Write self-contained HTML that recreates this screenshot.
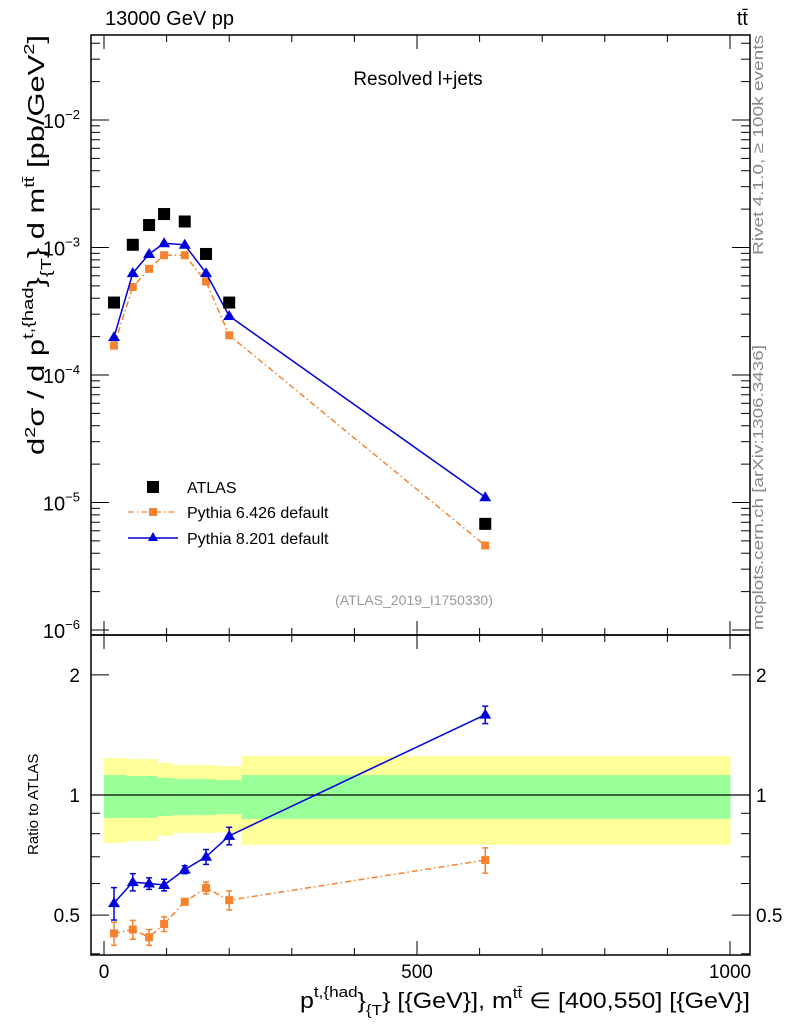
<!DOCTYPE html>
<html><head><meta charset="utf-8"><style>
html,body{margin:0;padding:0;background:#fff}
svg{display:block;font-family:"Liberation Sans",sans-serif}
</style></head><body>
<svg id="c" width="786" height="1024" viewBox="0 0 786 1024" xmlns="http://www.w3.org/2000/svg">
<g id="bands"></g>
<g id="axes"></g>
<g id="marks"></g>
<text x="105" y="25" font-size="20">13000 GeV pp</text>
<text x="748" y="25" font-size="20" text-anchor="end">tt̄</text>
<text x="418" y="85" font-size="19" text-anchor="middle">Resolved l+jets</text>
<text x="414" y="605" font-size="14" fill="#999" text-anchor="middle">(ATLAS_2019_I1750330)</text>
<text transform="translate(763,255) rotate(-90)" font-size="15" fill="#888" textLength="220" lengthAdjust="spacingAndGlyphs">Rivet 4.1.0, ≥ 100k events</text>
<text transform="translate(763,630) rotate(-90)" font-size="15" fill="#888" textLength="285" lengthAdjust="spacingAndGlyphs">mcplots.cern.ch [arXiv:1306.3436]</text>
<text transform="translate(44,455) rotate(-90)" font-size="23" textLength="420" lengthAdjust="spacingAndGlyphs">d<tspan font-size="15" dy="-9">2</tspan><tspan dy="9">σ / d p</tspan><tspan font-size="15" dy="-11">t,{had</tspan><tspan dy="11">}</tspan><tspan font-size="15" dy="7">{T</tspan><tspan dy="-7">} d m</tspan><tspan font-size="15" dy="-10">tt̄</tspan><tspan dy="10"> [pb/GeV</tspan><tspan font-size="15" dy="-10">2</tspan><tspan dy="10">]</tspan></text>
<text transform="translate(38,855) rotate(-90)" font-size="15">Ratio to ATLAS</text>
<text x="300" y="1008" font-size="22" textLength="450" lengthAdjust="spacingAndGlyphs">p<tspan font-size="15" dy="-11">t,{had</tspan><tspan dy="11">}</tspan><tspan font-size="15" dy="7">{T</tspan><tspan dy="-7">} [{GeV}], m</tspan><tspan font-size="15" dy="-10">tt̄</tspan><tspan dy="10"> ∈ [400,550] [{GeV}]</tspan></text>
<g>
<rect x="147" y="481" width="12" height="12" fill="#000"/>
<text x="187" y="493" font-size="16">ATLAS</text>
<line x1="128" y1="512" x2="178" y2="512" stroke="#f58231" stroke-width="1.3" stroke-dasharray="6,3,1.5,3"/>
<rect x="149" y="508" width="8" height="8" fill="#f58231"/>
<text x="187" y="518" font-size="16">Pythia 6.426 default</text>
<line x1="128" y1="538" x2="178" y2="538" stroke="#0000dd" stroke-width="1.5"/>
<path d="M153,532 L158,541 L148,541 Z" fill="#0000dd"/>
<text x="187" y="544" font-size="16">Pythia 8.201 default</text>
</g>
</svg>
<script>
const binEdges=[0,35,60,85,110,150,180,220,1000];
const xCenters=[16,46,72,96,129,163,200,609];
const atlas=[3.7e-4,1.05e-3,1.5e-3,1.83e-3,1.6e-3,8.9e-4,3.7e-4,6.8e-6];
const py8=[1.98e-4,6.3e-4,8.9e-4,1.08e-3,1.05e-3,6.3e-4,2.9e-4,1.1e-5];
const py6=[1.7e-4,4.9e-4,6.8e-4,8.7e-4,8.7e-4,5.4e-4,2.05e-4,4.6e-6];
const ratio8=[0.536,0.605,0.60,0.595,0.65,0.70,0.79,1.59];
const ratio8Err=[0.05,0.03,0.02,0.02,0.015,0.03,0.04,0.08];
const ratio6=[0.45,0.46,0.44,0.475,0.54,0.585,0.545,0.687];
const ratio6Err=[0.03,0.025,0.02,0.02,0.01,0.02,0.03,0.05];
const yellowUp=[1.238,1.231,1.231,1.203,1.189,1.189,1.182,1.252];
const yellowDn=[0.758,0.767,0.767,0.79,0.803,0.803,0.808,0.75];
const greenUp=[1.122,1.116,1.116,1.103,1.097,1.097,1.09,1.122];
const greenDn=[0.876,0.876,0.876,0.886,0.891,0.891,0.896,0.871];
const xTicks=[0,500,1000];
const yTicks=[-6,-5,-4,-3,-2];
const rTicks=[0.5,1,2];

const NS='http://www.w3.org/2000/svg';
const L=91,R=750,T=35,M=635,B=955;
const X=v=>104+v*0.626;
const Y=v=>120-(Math.log10(v)+2)*127.5;
const RY=v=>795-Math.log10(v)*399;
function mk(p,tag,at){const e=document.createElementNS(NS,tag);for(const k in at)e.setAttribute(k,at[k]);p.appendChild(e);return e;}
const bands=document.getElementById('bands'),axes=document.getElementById('axes'),marks=document.getElementById('marks');

for(let i=0;i<binEdges.length-1;i++){
  const x1=X(binEdges[i]),x2=X(binEdges[i+1]);
  let r=mk(bands,'rect',{x:x1,y:RY(yellowUp[i]),width:x2-x1+0.5,height:RY(yellowDn[i])-RY(yellowUp[i]),fill:'#ffff99'});
  
  
  r=mk(bands,'rect',{x:x1,y:RY(greenUp[i]),width:x2-x1+0.5,height:RY(greenDn[i])-RY(greenUp[i]),fill:'#99ff99'});
  
  
}
let ln=mk(axes,'line',{x1:L,x2:R,y1:RY(1),y2:RY(1),stroke:'#000','stroke-width':1.2});


let fr=mk(axes,'rect',{x:L,y:T,width:R-L,height:M-T,fill:'none',stroke:'#000','stroke-width':1.5});


fr=mk(axes,'rect',{x:L,y:M,width:R-L,height:B-M,fill:'none',stroke:'#000','stroke-width':1.5});


for(let v=0;v<=1000;v+=100){
  const big=v%500===0, h=big?14:7;
  [[M,-1],[B,-1],[T,1],[M,1]].forEach(([y0,d])=>{mk(axes,'line',{x1:X(v),x2:X(v),y1:y0,y2:y0+d*h,stroke:'#000'});});
}
xTicks.forEach(v=>{const t=mk(axes,'text',{x:X(v),y:978,'font-size':19,'text-anchor':'middle'});t.textContent=v;

});
for(let e=-6;e<=-2;e++){for(let m=1;m<10;m++){const v=m*Math.pow(10,e);const y=Y(v);if(y<T||y>M)continue;
 const h=m===1?18:9;mk(axes,'line',{x1:L,x2:L+h,y1:y,y2:y,stroke:'#000'});mk(axes,'line',{x1:R,x2:R-h,y1:y,y2:y,stroke:'#000'});}}
yTicks.forEach(e=>{const t=mk(axes,'text',{x:80,y:Y(Math.pow(10,e))+8,'font-size':20,'text-anchor':'end'});
t.innerHTML='10<tspan font-size="13" dy="-9">'+'\u2212'+(-e)+'</tspan>';

});
[0.4,0.5,0.6,0.7,0.8,0.9,1,2].forEach(v=>{const y=RY(v);const h=(v===0.5||v===1||v===2)?18:9;
 mk(axes,'line',{x1:L,x2:L+h,y1:y,y2:y,stroke:'#000'});mk(axes,'line',{x1:R,x2:R-h,y1:y,y2:y,stroke:'#000'});});
rTicks.forEach(v=>{let t=mk(axes,'text',{x:80,y:RY(v)+7,'font-size':19,'text-anchor':'end'});t.textContent=v;


t=mk(axes,'text',{x:756,y:RY(v)+7,'font-size':19});t.textContent=v;

});

function series(vals,ys,color,dash,shape,name,errs){
  const pts=vals.map((v,i)=>[X(xCenters[i]),ys(v)]);
  const pl=mk(marks,'polyline',{points:pts.map(p=>p.join(',')).join(' '),fill:'none',stroke:color,'stroke-width':1.5});
  if(dash)pl.setAttribute('stroke-dasharray',dash);
  
  
  pts.forEach((p,i)=>{
    if(errs){const y1=ys(vals[i]+errs[i]),y2=ys(vals[i]-errs[i]);
      mk(marks,'line',{x1:p[0],x2:p[0],y1:y1,y2:y2,stroke:color,'stroke-width':1.5});
      mk(marks,'line',{x1:p[0]-3,x2:p[0]+3,y1:y1,y2:y1,stroke:color,'stroke-width':1.5});
      mk(marks,'line',{x1:p[0]-3,x2:p[0]+3,y1:y2,y2:y2,stroke:color,'stroke-width':1.5});}
    let m;
    if(shape==='tri')m=mk(marks,'path',{d:`M${p[0]},${p[1]-6} L${p[0]+6},${p[1]+4} L${p[0]-6},${p[1]+4} Z`,fill:color});
    else m=mk(marks,'rect',{x:p[0]-4,y:p[1]-4,width:8,height:8,fill:color});
    
    
  });
}
series(py6,Y,'#f58231','6,3,1.5,3','sq','pythia6');
series(py8,Y,'#0000dd',null,'tri','pythia8');
atlas.forEach((v,i)=>{const r=mk(marks,'rect',{x:X(xCenters[i])-6,y:Y(v)-6,width:12,height:12,fill:'#000'});

});
series(ratio6,RY,'#f58231','6,3,1.5,3','sq','ratio-pythia6',ratio6Err);
series(ratio8,RY,'#0000dd',null,'tri','ratio-pythia8',ratio8Err);
</script>
</body></html>
